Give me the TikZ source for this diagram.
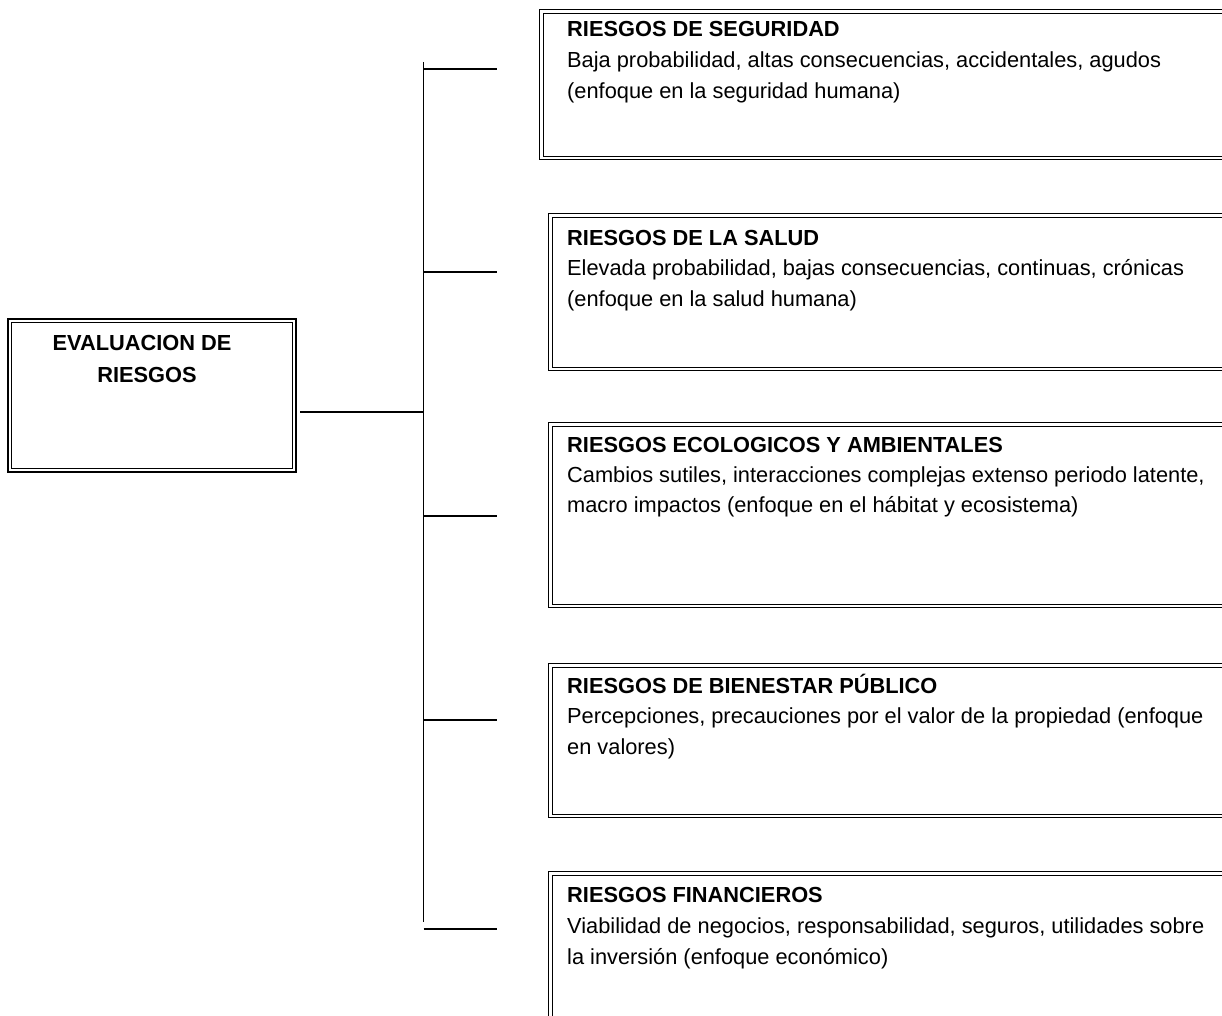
\documentclass[tikz,border=0pt]{standalone}
\usepackage{fontspec}
\setmainfont{Liberation Sans}
\begin{document}
\begin{tikzpicture}[x=1pt,y=-1pt,
  dbox/.style={draw, line width=1.3pt, inner sep=0pt},
  inbox/.style={line width=0.9pt},
  conn/.style={line width=1.6pt},
  body/.style={anchor=base west, inner sep=0pt, font=\fontsize{21.8}{26}\selectfont},
  head/.style={anchor=base west, inner sep=0pt, font=\fontsize{21.8}{26}\selectfont\bfseries},
  mhead/.style={anchor=base, inner sep=0pt, font=\fontsize{21.8}{26}\selectfont\bfseries}]
\useasboundingbox (0,0) rectangle (1222,1016);
\clip (0,0) rectangle (1222,1016);

% main box
\node[dbox, minimum width=288pt, minimum height=153pt] (eval) at (152,395.5) {};
\draw[inbox] ([shift={(4,4)}]eval.north west) rectangle ([shift={(-4,-4)}]eval.south east);
\node[mhead] (ev1) at (142,350) {EVALUACION DE};
\node[mhead] (ev2) at (147,382) {RIESGOS};

% right boxes
\node[dbox, anchor=north west, minimum width=720pt, minimum height=150pt] (b1) at (539,9) {};
\node[dbox, anchor=north west, minimum width=720pt, minimum height=157pt] (b2) at (548,213) {};
\node[dbox, anchor=north west, minimum width=720pt, minimum height=185pt] (b3) at (548,422) {};
\node[dbox, anchor=north west, minimum width=720pt, minimum height=154pt] (b4) at (548,663) {};
\node[dbox, anchor=north west, minimum width=720pt, minimum height=200pt] (b5) at (548,871) {};
\foreach \b in {b1,b2,b3,b4,b5}{
  \draw[inbox] ([shift={(4,4)}]\b.north west) rectangle ([shift={(-4,-4)}]\b.south east);
}

% texts
\node[head] (h1) at (567,37) {RIESGOS DE SEGURIDAD};
\node[body] (t1a) at (567,68) {Baja probabilidad, altas consecuencias, accidentales, agudos};
\node[body] (t1b) at (567,99) {(enfoque en la seguridad humana)};

\node[head] (h2) at (567,245) {RIESGOS DE LA SALUD};
\node[body] (t2a) at (567,275) {Elevada probabilidad, bajas consecuencias, continuas, crónicas};
\node[body] (t2b) at (567,306) {(enfoque en la salud humana)};

\node[head] (h3) at (567,452) {RIESGOS ECOLOGICOS Y AMBIENTALES};
\node[body] (t3a) at (567,482) {Cambios sutiles, interacciones complejas extenso periodo latente,};
\node[body] (t3b) at (567,512) {macro impactos (enfoque en el hábitat y ecosistema)};

\node[head] (h4) at (567,693) {RIESGOS DE BIENESTAR PÚBLICO};
\node[body] (t4a) at (567,723) {Percepciones, precauciones por el valor de la propiedad (enfoque};
\node[body] (t4b) at (567,754) {en valores)};

\node[head] (h5) at (567,902) {RIESGOS FINANCIEROS};
\node[body] (t5a) at (567,933) {Viabilidad de negocios, responsabilidad, seguros, utilidades sobre};
\node[body] (t5b) at (567,964) {la inversión (enfoque económico)};

% connectors
\coordinate (top) at (423.5,62);
\coordinate (bot) at (423.5,922);
\coordinate (j0) at (423.5,412);
\coordinate (j1) at (423.5,69);
\coordinate (j2) at (423.5,272);
\coordinate (j3) at (423.5,516);
\coordinate (j4) at (423.5,720);
\coordinate (j5) at (423.5,929);
\coordinate (e1) at (497,69);
\coordinate (e2) at (497,272);
\coordinate (e3) at (497,516);
\coordinate (e4) at (497,720);
\coordinate (e5) at (497,929);
\coordinate (e0) at (300,412);

\draw[conn] (top) -- (bot);
\draw[conn] (e0) -- (j0);
\draw[conn] (j1) -- (e1);
\draw[conn] (j2) -- (e2);
\draw[conn] (j3) -- (e3);
\draw[conn] (j4) -- (e4);
\draw[conn] (j5) -- (e5);
\end{tikzpicture}
\end{document}
